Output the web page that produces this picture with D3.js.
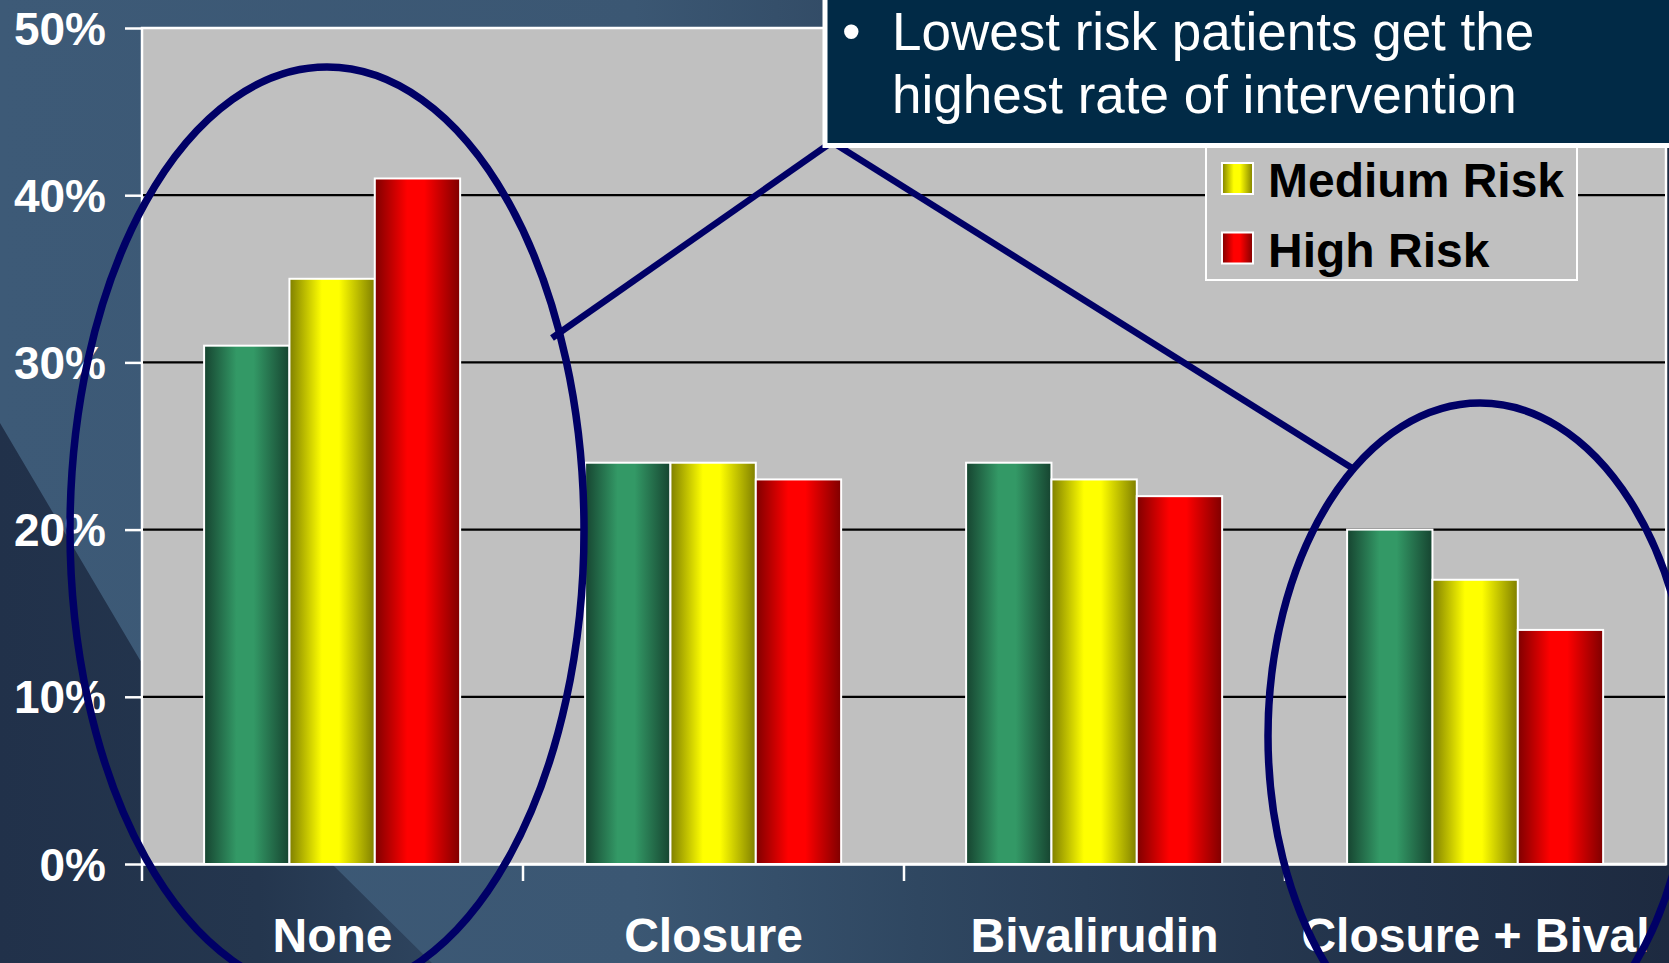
<!DOCTYPE html>
<html>
<head>
<meta charset="utf-8">
<script src="https://cdn.jsdelivr.net/npm/d3@7"></script>
<style>
  html, body { margin: 0; padding: 0; background: #2d435d; }
  svg { display: block; }
</style>
</head>
<body>
<svg id="chart" width="1669" height="963"></svg>
<script>
// Rate of intervention by treatment strategy and risk group
const categories = ["None", "Closure", "Bivalirudin", "Closure + Bival"];
const seriesNames = ["Low Risk", "Medium Risk", "High Risk"];
const lowRisk = [31, 24, 24, 20];
const mediumRisk = [35, 24, 23, 17];
const highRisk = [41, 23, 22, 14];
const yTicks = [0, 10, 20, 30, 40, 50];
const calloutLines = ["Lowest risk patients get the", "highest rate of intervention"];
// legend entries left visible below the callout box
const legendNames = ["Medium Risk", "High Risk"];

const seriesValues = [lowRisk, mediumRisk, highRisk];
const W = 1669, H = 963;
const svg = d3.select("#chart");
const FONT = "'Liberation Sans', Arial, Helvetica, sans-serif";

// ---------- gradients ----------
const defs = svg.append("defs");

const bg = defs.append("linearGradient").attr("id", "bgGrad")
  .attr("x1", 0).attr("x2", 1).attr("y1", 0).attr("y2", 0);
[[0, "#3d5a77"], [0.38, "#3b5773"], [0.55, "#2f4761"], [0.75, "#25374f"], [1, "#1d2a40"]]
  .forEach(([o, c]) => bg.append("stop").attr("offset", o).attr("stop-color", c));

const swoosh = defs.append("linearGradient").attr("id", "swooshGrad")
  .attr("x1", 0).attr("x2", 1).attr("y1", 0).attr("y2", 0);
[[0, "#21314a"], [0.6, "#24364e"], [1, "#2e445e"]]
  .forEach(([o, c]) => swoosh.append("stop").attr("offset", o).attr("stop-color", c));

// cylinder-style shading for each series
const barColors = [
  { dark: "#164430", bright: "#339966" },
  { dark: "#7f7f00", bright: "#ffff00" },
  { dark: "#7f0000", bright: "#ff0000" }
];
barColors.forEach((c, i) => {
  const g = defs.append("linearGradient").attr("id", "barGrad" + i)
    .attr("x1", 0).attr("x2", 1).attr("y1", 0).attr("y2", 0);
  [[0, c.dark], [0.38, c.bright], [0.58, c.bright], [1, c.dark]]
    .forEach(([o, col]) => g.append("stop").attr("offset", o).attr("stop-color", col));
});

// ---------- slide background ----------
svg.append("rect").attr("width", W).attr("height", H).attr("fill", "url(#bgGrad)");
svg.append("path")
  .attr("d", "M0,423 L140,660 Q240,790 335,867 L432,963 L0,963 Z")
  .attr("fill", "url(#swooshGrad)");

// ---------- scales ----------
const plot = { left: 142, right: 1666, top: 28, bottom: 864 };
const y = d3.scaleLinear().domain([0, 50]).range([plot.bottom, plot.top]);
const x0 = d3.scaleBand().domain(categories).range([plot.left, plot.right]).padding(0);
const bw = x0.bandwidth();
const x1 = d3.scaleBand().domain(seriesNames)
  .range([bw * 0.163, bw * 0.835]).padding(0);

// ---------- plot area ----------
svg.append("rect")
  .attr("x", plot.left).attr("y", plot.top)
  .attr("width", plot.right - plot.left).attr("height", plot.bottom - plot.top)
  .attr("fill", "#c0c0c0").attr("stroke", "#ffffff").attr("stroke-width", 2.5);

// gridlines
svg.append("g").selectAll("line")
  .data(yTicks.filter(t => t > 0 && t < 50))
  .join("line")
  .attr("x1", plot.left + 1).attr("x2", plot.right - 1)
  .attr("y1", d => y(d)).attr("y2", d => y(d))
  .attr("stroke", "#000000").attr("stroke-width", 2.2);

// ---------- bars ----------
const groups = svg.append("g").selectAll("g")
  .data(categories)
  .join("g")
  .attr("transform", d => `translate(${x0(d)},0)`);

groups.selectAll("rect")
  .data((cat, ci) => seriesNames.map((s, si) => ({ s, si, v: seriesValues[si][ci] })))
  .join("rect")
  .attr("x", d => x1(d.s))
  .attr("width", x1.bandwidth())
  .attr("y", d => y(d.v))
  .attr("height", d => y(0) - y(d.v))
  .attr("fill", d => `url(#barGrad${d.si})`)
  .attr("stroke", "#ffffff").attr("stroke-width", 2);

// ---------- axes ----------
const yAxis = d3.axisLeft(y).tickValues(yTicks).tickSize(17).tickFormat(d => d + "%");
const yg = svg.append("g").attr("transform", `translate(${plot.left},0)`).call(yAxis);
yg.select(".domain").remove();
yg.selectAll(".tick line").attr("stroke", "#ffffff").attr("stroke-width", 2.5);
yg.selectAll(".tick text")
  .attr("x", -36).attr("dy", "0.35em")
  .attr("fill", "#ffffff")
  .style("font-family", FONT).style("font-weight", "bold").style("font-size", "46px");

const xAxis = d3.axisBottom(x0).tickSize(0).tickSizeOuter(0);
const xg = svg.append("g").attr("transform", `translate(0,${plot.bottom})`).call(xAxis);
xg.select(".domain").attr("stroke", "#ffffff").attr("stroke-width", 2.5);
xg.selectAll(".tick text")
  .attr("y", 88).attr("dy", 0)
  .attr("fill", "#ffffff")
  .style("font-family", FONT).style("font-weight", "bold").style("font-size", "48px");
// category separators below the axis
svg.append("g").selectAll("line")
  .data(categories)
  .join("line")
  .attr("x1", d => x0(d)).attr("x2", d => x0(d))
  .attr("y1", plot.bottom).attr("y2", plot.bottom + 17)
  .attr("stroke", "#ffffff").attr("stroke-width", 2.5);

// ---------- legend ----------
const legend = svg.append("g");
legend.append("rect")
  .attr("x", 1206).attr("y", 75).attr("width", 371).attr("height", 205)
  .attr("fill", "#c0c0c0").attr("stroke", "#ffffff").attr("stroke-width", 2);
const items = legend.selectAll("g.item")
  .data(legendNames)
  .join("g").attr("class", "item")
  .attr("transform", (d, i) => `translate(1222,${197 + i * 69.5})`);
items.append("rect")
  .attr("x", 0).attr("y", -34).attr("width", 31).attr("height", 31)
  .attr("fill", d => `url(#barGrad${seriesNames.indexOf(d)})`)
  .attr("stroke", "#ffffff").attr("stroke-width", 2);
items.append("text")
  .attr("x", 46).attr("y", 0)
  .attr("fill", "#000000")
  .style("font-family", FONT).style("font-weight", "bold").style("font-size", "48px")
  .text(d => d);

// ---------- highlight ellipses ----------
const NAVY = "#000066";
svg.append("ellipse")
  .attr("cx", 327).attr("cy", 530).attr("rx", 257).attr("ry", 463)
  .attr("fill", "none").attr("stroke", NAVY).attr("stroke-width", 7.5);
svg.append("ellipse")
  .attr("cx", 1480).attr("cy", 736).attr("rx", 212).attr("ry", 333)
  .attr("fill", "none").attr("stroke", NAVY).attr("stroke-width", 7.5);

// callout pointers
svg.append("line").attr("x1", 552).attr("y1", 338).attr("x2", 832).attr("y2", 142)
  .attr("stroke", NAVY).attr("stroke-width", 6.5);
svg.append("line").attr("x1", 832).attr("y1", 142).attr("x2", 1352).attr("y2", 468)
  .attr("stroke", NAVY).attr("stroke-width", 6.5);

// ---------- callout box ----------
svg.append("rect")
  .attr("x", 825).attr("y", -10).attr("width", 900).attr("height", 155.5)
  .attr("fill", "#012a46").attr("stroke", "#ffffff").attr("stroke-width", 5);
const callout = svg.append("g")
  .style("font-family", FONT).style("font-size", "53px").attr("fill", "#ffffff");
callout.append("text").attr("x", 842).attr("y", 50).text("\u2022");
callout.selectAll("text.line")
  .data(calloutLines)
  .join("text").attr("class", "line")
  .attr("x", 892).attr("y", (d, i) => 50 + i * 63)
  .text(d => d);
</script>
</body>
</html>
